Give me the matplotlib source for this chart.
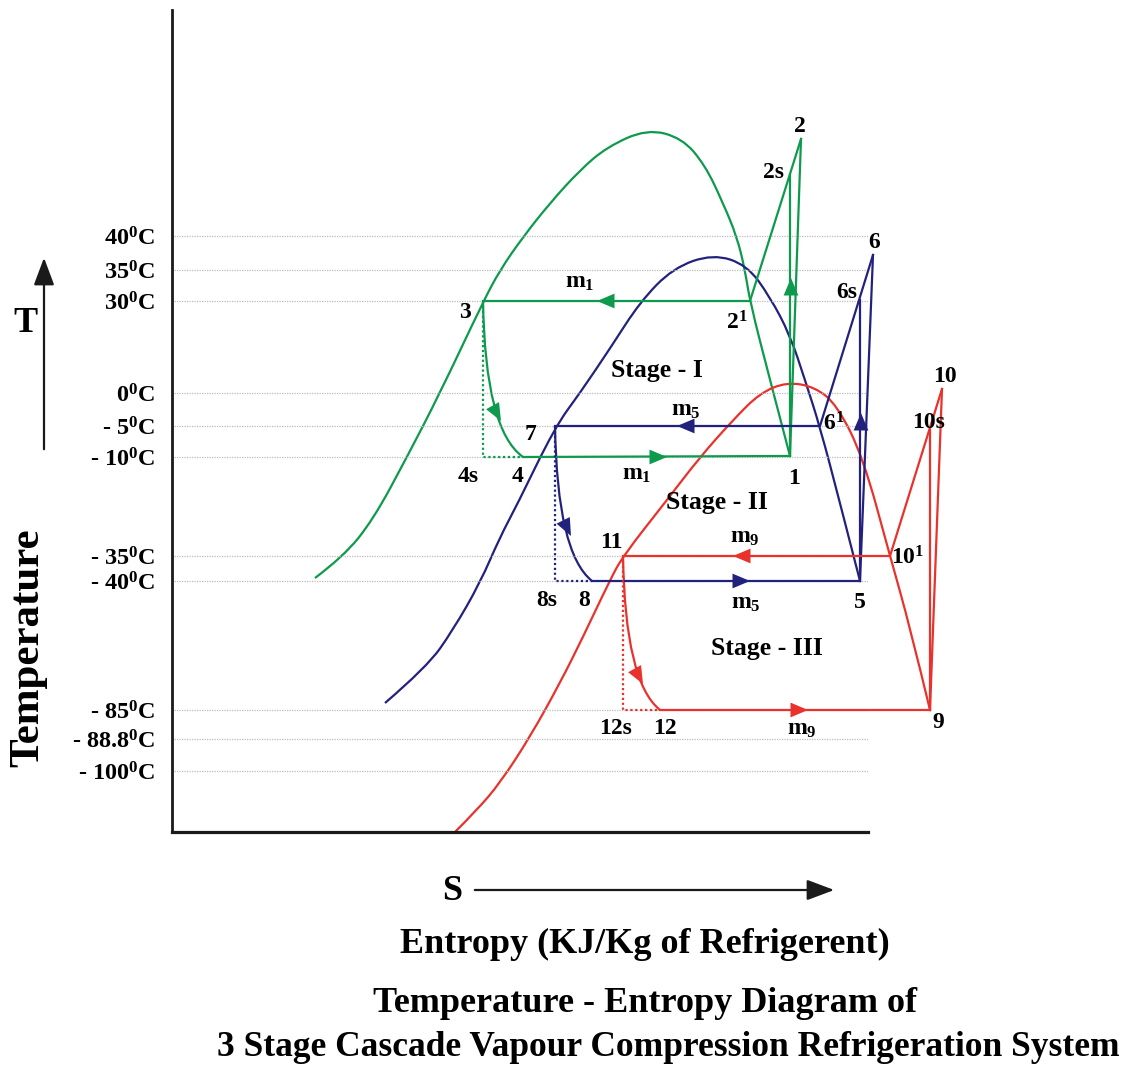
import numpy as np
import matplotlib
matplotlib.use("Agg")
import matplotlib.pyplot as plt
from matplotlib.path import Path
from matplotlib.patches import PathPatch

plt.rcParams['font.family'] = ['Liberation Serif', 'DejaVu Serif']
plt.rcParams['font.weight'] = 'bold'
plt.rcParams['mathtext.fontset'] = 'custom'
plt.rcParams['mathtext.rm'] = 'Liberation Serif:bold'
plt.rcParams['mathtext.it'] = 'Liberation Serif:bold'
plt.rcParams['mathtext.bf'] = 'Liberation Serif:bold'
plt.rcParams['mathtext.default'] = 'rm'

GREEN = '#0d9a4c'
BLUE = '#22227e'
RED = '#e8322b'

# schematic diagram coordinates (s to the right, T level downwards on screen)
t_levels = [236, 270, 301, 393, 426, 457, 556, 581, 710, 739, 771]
t_labels = ['40$^0$C', '35$^0$C', '30$^0$C', '0$^0$C', '- 5$^0$C', '- 10$^0$C',
            '- 35$^0$C', '- 40$^0$C', '- 85$^0$C', '- 88.8$^0$C', '- 100$^0$C']

# saturation domes
dome_1 = [(315, 578), (343, 557), (373, 520), (407, 457), (440, 393), (483, 302),
          (500, 270), (523, 237), (550, 203), (580, 170), (607, 147), (647, 129),
          (682, 138), (705, 165), (723, 203), (737, 237), (745, 270), (750, 302),
          (770, 380), (790, 456)]
dome_2 = [(385, 703), (427, 667), (453, 630), (480, 583), (500, 537), (517, 505),
          (555, 427), (580, 393), (611, 347), (640, 302), (673, 268), (713, 254),
          (747, 265), (770, 297), (790, 335), (805, 380), (820, 427), (840, 503),
          (860, 581)]
dome_3 = [(455, 832), (477, 810), (500, 783), (530, 737), (560, 683), (583, 637),
          (610, 580), (623, 556), (667, 500), (700, 457), (733, 420), (760, 393),
          (787, 382), (815, 387), (837, 405), (863, 457), (890, 556), (910, 627),
          (930, 710)]

# cycle state points: stage I (1,2,2s,2',3,4,4s), II (5..8s), III (9..12s)
st1 = {'1': (790, 456), '2': (801, 139), '2s': (790, 175), "2'": (750, 301),
       '3': (483, 301), '4': (523, 457), '4s': (483, 457)}
st2 = {'5': (860, 581), '6': (873, 255), '6s': (860, 300), "6'": (820, 426),
       '7': (555, 426), '8': (592, 581), '8s': (555, 581)}
st3 = {'9': (930, 710), '10': (942, 389), '10s': (930, 430), "10'": (890, 556),
       '11': (623, 556), '12': (660, 710), '12s': (623, 710)}

# throttling curve control points
ctrl = [(485, 430), (557, 553), (625, 682)]

# arrow heads: (tip_x, tip_y, dir_x, dir_y, colour)
arrows = [(597, 301, -1, 0, GREEN), (667, 457, 1, 0, GREEN), (791, 278, 0, -1, GREEN),
          (501, 421, 0.55, 1, GREEN),
          (677, 426, -1, 0, BLUE), (750, 581, 1, 0, BLUE), (861, 413, 0, -1, BLUE),
          (571, 536, 0.5, 1, BLUE),
          (733, 556, -1, 0, RED), (808, 710, 1, 0, RED), (931, 577, 0, -1, RED),
          (643, 684, 0.55, 1, RED)]

labels = [('2', 800, 126), ('2s', 773, 173), ('2$^1$', 737, 323), ('3', 465, 312),
          ('4s', 468, 476), ('4', 518, 476), ('1', 794, 478),
          ('m$_1$', 580, 282), ('m$_1$', 637, 474), ('Stage - I', 657, 370),
          ('6', 874, 242), ('6s', 847, 293), ('6$^1$', 834, 424), ('7', 531, 435),
          ('8s', 547, 600), ('8', 584, 600), ('5', 860, 603),
          ('m$_5$', 686, 410), ('m$_5$', 746, 603), ('Stage - II', 717, 502),
          ('10', 945, 377), ('10s', 929, 423), ('10$^1$', 908, 558), ('11', 611, 542),
          ('12s', 616, 728), ('12', 665, 728), ('9', 938, 722),
          ('m$_9$', 745, 537), ('m$_9$', 802, 730), ('Stage - III', 767, 648)]


def smooth_path(pts):
    pts = np.asarray(pts, float)
    verts, codes = [pts[0]], [Path.MOVETO]
    for i in range(1, len(pts) - 1):
        end = pts[i + 1] if i == len(pts) - 2 else (pts[i] + pts[i + 1]) / 2
        verts += [pts[i], end]
        codes += [Path.CURVE3, Path.CURVE3]
    return Path(verts, codes)


fig = plt.figure(figsize=(11.3, 10.75), dpi=100)
ax = fig.add_axes([172 / 1130, 243 / 1075, 696 / 1130, 822 / 1075])
ax.set_xlim(172, 868)
ax.set_ylim(832, 10)
for side in ['top', 'right']:
    ax.spines[side].set_visible(False)
ax.spines['left'].set_linewidth(2.0)
ax.spines['bottom'].set_linewidth(2.3)
ax.spines['left'].set_color('#1a1a1a')
ax.spines['bottom'].set_color('#1a1a1a')
ax.set_xticks([])
ax.set_yticks(t_levels, t_labels, fontsize=17.5)
ax.tick_params(axis='y', length=0, pad=12)

ax.hlines(t_levels, 174, 868, colors='#bcbcbc', linestyles=(0, (1, 1)), lw=0.9)

kw = dict(lw=1.6, clip_on=False, solid_joinstyle='miter')
for dome, col in [(dome_1, GREEN), (dome_2, BLUE), (dome_3, RED)]:
    ax.add_patch(PathPatch(smooth_path(dome), fill=False, ec=col, lw=1.6, clip_on=False))

for st, c, (a, b, cc, d, e, f, g), cp in [
        (st1, GREEN, ('1', '2', '2s', "2'", '3', '4', '4s'), ctrl[0]),
        (st2, BLUE, ('5', '6', '6s', "6'", '7', '8', '8s'), ctrl[1]),
        (st3, RED, ('9', '10', '10s', "10'", '11', '12', '12s'), ctrl[2])]:
    # condenser line, compression lines, evaporator line
    xs, ys = zip(st[e], st[d], st[b])
    ax.plot(xs, ys, color=c, **kw)
    xs, ys = zip(st[a], st[cc])
    ax.plot(xs, ys, color=c, **kw)
    xs, ys = zip(st[a], st[b])
    ax.plot(xs, ys, color=c, **kw)
    xs, ys = zip(st[f], st[a])
    ax.plot(xs, ys, color=c, **kw)
    # isentropic expansion (dotted)
    xs, ys = zip(st[e], st[g], st[f])
    ax.plot(xs, ys, color=c, lw=1.6, ls=(0, (1, 1.2)), clip_on=False)
    # throttling curve
    ax.add_patch(PathPatch(Path([st[e], cp, st[f]], [Path.MOVETO, Path.CURVE3, Path.CURVE3]),
                           fill=False, ec=c, lw=1.6, clip_on=False))

for x, y, dx, dy, c in arrows:
    n = np.hypot(dx, dy)
    ax.annotate('', xy=(x, y), xytext=(x - 12 * dx / n, y - 12 * dy / n),
                arrowprops=dict(arrowstyle='-|>,head_length=0.9,head_width=0.38',
                                color=c, lw=0, shrinkA=0, shrinkB=0, mutation_scale=14))

for txt, x, y in labels:
    size = 18.5 if txt.startswith('Stage') else 17
    ax.text(x, y, txt, ha='center', va='center', fontsize=size, clip_on=False)

# axis annotations outside the plotting box
ax.text(25, 323, 'T', ha='center', va='center', fontsize=26, clip_on=False)
ax.annotate('', xy=(44, 255), xytext=(44, 452), annotation_clip=False,
            arrowprops=dict(arrowstyle='-|>,head_length=1.2,head_width=0.45',
                            color='#1a1a1a', lw=1.6, mutation_scale=14))
ax.text(28, 648, 'Temperature', rotation=90, ha='center', va='center', fontsize=31,
        clip_on=False)
ax.text(452, 891, 'S', ha='center', va='center', fontsize=26, clip_on=False)
ax.annotate('', xy=(837, 890), xytext=(472, 890), annotation_clip=False,
            arrowprops=dict(arrowstyle='-|>,head_length=1.2,head_width=0.45',
                            color='#1a1a1a', lw=1.6, mutation_scale=14))
ax.text(645, 944, 'Entropy (KJ/Kg of Refrigerent)', ha='center', va='center',
        fontsize=26, clip_on=False)
ax.text(645, 1004, 'Temperature - Entropy Diagram of', ha='center', va='center',
        fontsize=26, clip_on=False)
ax.text(668, 1048, '3 Stage Cascade Vapour Compression Refrigeration System',
        ha='center', va='center', fontsize=25.5, clip_on=False)

fig.savefig('out.png', dpi=100, facecolor='white')
